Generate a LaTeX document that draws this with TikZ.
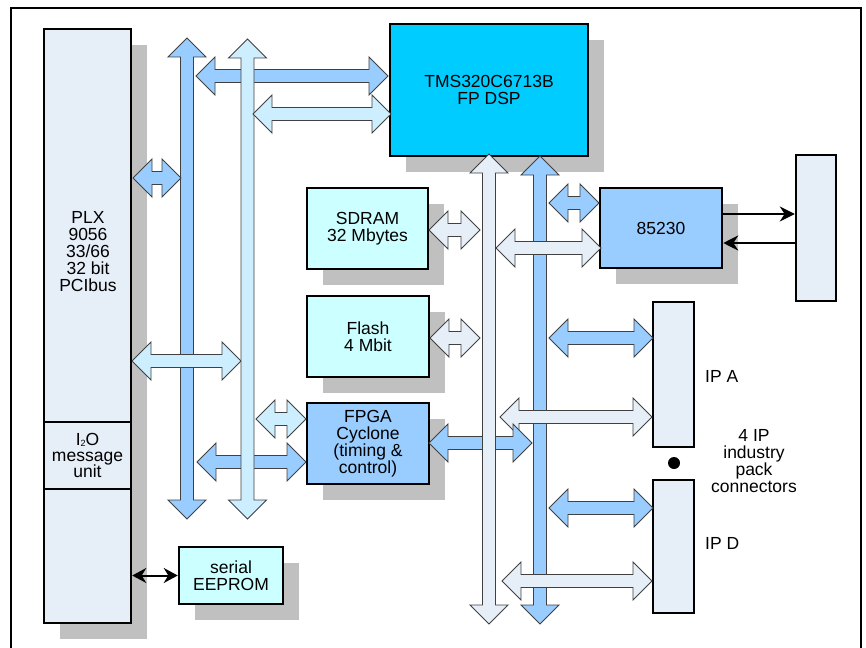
\documentclass[tikz,border=0pt]{standalone}
\usepackage{fontspec}
\setmainfont{Liberation Sans}
\usetikzlibrary{shadows,arrows.meta}
\definecolor{busblue}{HTML}{99CCFF}
\definecolor{buslight}{HTML}{CCEEFF}
\definecolor{busvlight}{HTML}{E6EEF8}
\definecolor{memcyan}{HTML}{CCFFFF}
\definecolor{dspcyan}{HTML}{00CCFF}
\definecolor{shgray}{HTML}{C0C0C0}
\definecolor{edgegray}{HTML}{404040}
% horizontal block double arrow: x1, x2, y, colour
\newcommand\blockH[4]{\filldraw[barrow,fill=#4]
 (#1,#3) -- (#1+19,#3-19) -- (#1+19,#3-6.5) -- (#2-19,#3-6.5) -- (#2-19,#3-19) -- (#2,#3)
 -- (#2-19,#3+19) -- (#2-19,#3+6.5) -- (#1+19,#3+6.5) -- (#1+19,#3+19) -- cycle;}
% vertical block double arrow (bus): x, y1, y2, colour
\newcommand\blockV[4]{\filldraw[barrow,fill=#4]
 (#1,#2) -- (#1+19,#2+19) -- (#1+6.5,#2+19) -- (#1+6.5,#3-19) -- (#1+19,#3-19) -- (#1,#3)
 -- (#1-19,#3-19) -- (#1-6.5,#3-19) -- (#1-6.5,#2+19) -- (#1-19,#2+19) -- cycle;}
\begin{document}
\begin{tikzpicture}[x=1pt,y=-1pt,
  box/.style={draw=black, line width=2.5pt, rectangle, inner sep=0pt, align=center,
              font=\fontsize{17.5}{17}\selectfont},
  shadowed/.style={drop shadow={fill=shgray, opacity=1, shadow xshift=16pt, shadow yshift=-16pt}},
  barrow/.style={draw=edgegray, line width=0.9pt, line join=miter},
  blk/.style={line width=2pt, draw=black},
  tip/.style={-{Stealth[length=15pt,width=15pt]}},
  lbl/.style={inner sep=0pt, align=center, font=\fontsize{17.5}{17}\selectfont}]
\useasboundingbox (0,0) rectangle (866,647);
% outer frame
\draw[line width=2pt] (11,8) rectangle (861,700);

% boxes
\node[box, shadowed, fill=busvlight, minimum width=87pt, minimum height=594pt] (plx) at (87.5,326) {};
\node[box, fill=busvlight, minimum width=87pt, minimum height=67pt] (i2o) at (87.5,455.5)
  {I\raisebox{-1pt}{\fontsize{9}{9}\selectfont 2}O\\[-1pt]message\\[-1pt]unit};
\node[lbl] (plxlabel) at (88,251.5) {PLX\\9056\\33/66\\32 bit\\PCIbus};
\node[box, shadowed, fill=dspcyan, minimum width=198pt, minimum height=132pt] (dsp) at (489,90) {TMS320C6713B\\FP DSP};
\node[box, shadowed, fill=memcyan, minimum width=121pt, minimum height=81pt] (sdram) at (367.5,228.5) {SDRAM\\32 Mbytes};
\node[box, shadowed, fill=memcyan, minimum width=122pt, minimum height=81pt] (flash) at (368,336.5) {Flash\\4 Mbit};
\node[box, shadowed, fill=busblue, minimum width=122pt, minimum height=81pt] (fpga) at (368,443.5) {FPGA\\Cyclone\\(timing \&\\control)};
\node[box, shadowed, fill=busblue, minimum width=122pt, minimum height=80pt] (u85230) at (661,228) {85230};
\node[box, shadowed, fill=memcyan, minimum width=104pt, minimum height=57pt] (eeprom) at (231,575.5) {serial\\EEPROM};
\node[box, fill=busvlight, minimum width=40pt, minimum height=146pt] (conn) at (816,228) {};
\node[box, fill=busvlight, minimum width=41pt, minimum height=145pt] (ipa) at (673.5,374.5) {};
\node[box, fill=busvlight, minimum width=41pt, minimum height=133pt] (ipd) at (673.5,546.5) {};
\node[circle, fill=black, minimum size=12pt, inner sep=0pt] (dot) at (674,463) {};
\node[lbl, anchor=west] (ipalbl) at (705,376) {IP A};
\node[lbl, anchor=west] (ipdlbl) at (705,543.7) {IP D};
\node[lbl] (iplbl) at (754,461) {4 IP\\industry\\pack\\connectors};

% buses underneath
\blockV{187}{38}{519}{busblue}
\blockV{540}{156}{624}{busblue}
% arrows over bus1 / bus4
\blockH{132}{241}{361}{buslight}
\blockH{496}{601}{248}{busvlight}
\blockH{500}{652}{417}{busvlight}
\blockH{502}{652}{581}{busvlight}
% arrows under bus2 / bus3
\blockH{196}{388}{76}{busblue}
\blockH{197}{306}{462}{busblue}
\blockH{429}{532}{443}{busblue}
% buses on top
\blockV{247.5}{39}{519}{buslight}
\blockV{489}{154}{624}{busvlight}
% remaining arrows
\blockH{133}{181}{178}{busblue}
\blockH{253}{391}{114}{buslight}
\blockH{256}{306}{419}{buslight}
\blockH{429}{480}{230}{busvlight}
\blockH{430}{480}{338}{busvlight}
\blockH{549}{599}{203}{busblue}
\blockH{549}{653}{338}{busblue}
\blockH{549}{653}{508}{busblue}

% black connectors
\draw[blk, tip] (u85230.east |- 0,214) -- (conn.west |- 0,214);
\draw[blk, tip] (conn.west |- 0,243) -- (u85230.east |- 0,243);
\draw[blk, {Stealth[length=14pt,width=15pt]}-{Stealth[length=14pt,width=15pt]}] (plx.east |- eeprom.west) -- (eeprom.west);
\end{tikzpicture}
\end{document}
